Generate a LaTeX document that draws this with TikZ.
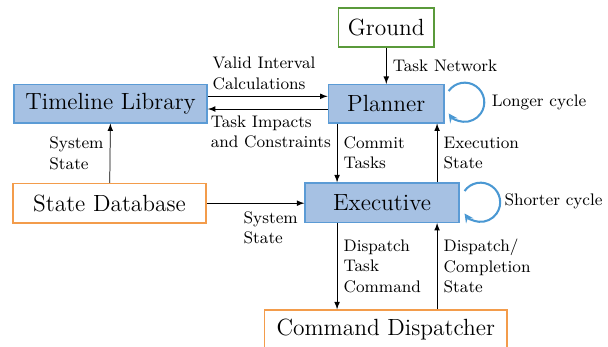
\documentclass[tikz,border=0pt]{standalone}
\usetikzlibrary{arrows}

\definecolor{boxfill}{HTML}{A6C1E3}
\definecolor{boxline}{HTML}{5B9BD5}
\definecolor{loopblue}{HTML}{4A98D3}
\definecolor{grndgreen}{HTML}{5A9A3A}
\definecolor{srcorange}{HTML}{F39C4B}

\tikzset{
  core/.style={draw=boxline,fill=boxfill,thick,font=\fontsize{12.6}{15}\selectfont,minimum height=0.72cm},
  extern/.style={draw,thick,fill=white,font=\fontsize{12.6}{15}\selectfont,minimum height=0.74cm},
  lbl/.style={font=\small,align=left},
  cyclearrow/.style={draw=loopblue,line width=1.1pt,->,>=stealth},
}

\begin{document}
\begin{tikzpicture}[>=latex]
  \useasboundingbox (0,0) rectangle (11.49,6.54);
  % Kaesten
  \node[core,minimum width=3.65cm] (timeline) at (2.09,4.58) {Timeline Library};
  \node[core,minimum width=2.19cm] (planner) at (7.30,4.58) {Planner};
  \node[core,minimum width=2.91cm,minimum height=0.74cm] (exec) at (7.22,2.71) {Executive};
  \node[extern,draw=grndgreen,minimum width=1.81cm] (ground) at (7.30,6.02) {Ground};
  \node[extern,draw=srcorange,minimum width=3.65cm] (statedb) at (2.07,2.70) {State Database};
  \node[extern,draw=srcorange,minimum width=4.59cm] (dispatch) at (7.29,0.31) {Command Dispatcher};
  % Spalten fuer die senkrechten Pfeile
  \coordinate (lcol) at (6.37,0);
  \coordinate (rcol) at (8.26,0);
  % Ground -> Planner
  \draw[->] (ground) -- (planner)
    node[lbl,midway,right] {Task Network};
  % Timeline <-> Planner
  \draw[->] ([yshift=0.14cm]timeline.east) -- ([yshift=0.14cm]timeline.east -| planner.west)
    node[lbl,pos=0,above right,xshift=-1pt] {Valid Interval\\Calculations};
  \draw[->] ([yshift=-0.10cm]timeline.east -| planner.west) -- ([yshift=-0.10cm]timeline.east)
    node[lbl,pos=1,below right,xshift=-2pt] {Task Impacts\\and Constraints};
  % State Database
  \draw[->] (statedb) -- (timeline)
    node[lbl,midway,left] {System\\State};
  \draw[->] (statedb.east) -- (statedb.east -| exec.west)
    node[lbl,pos=1,below left,yshift=-1pt] {System\\State};
  % Planner <-> Executive
  \draw[->] (planner.south -| lcol) -- (exec.north -| lcol)
    node[lbl,midway,right] {Commit\\Tasks};
  \draw[->] (exec.north -| rcol) -- (planner.south -| rcol)
    node[lbl,midway,right] {Execution\\State};
  % Executive <-> Command Dispatcher
  \draw[->] (exec.south -| lcol) -- (dispatch.north -| lcol)
    node[lbl,midway,right] {Dispatch\\Task\\Command};
  \draw[->] (dispatch.north -| rcol) -- (exec.south -| rcol)
    node[lbl,midway,right] {Dispatch/\\Completion\\State};
  % Zyklen
  \draw[cyclearrow] ([shift={(0.07,0.24)}]planner.east) arc[start angle=145,end angle=-145,radius=0.37];
  \node[lbl,anchor=west] (longer) at (9.17,4.61) {Longer cycle};
  \draw[cyclearrow] ([shift={(0.09,0.22)}]exec.east) arc[start angle=145,end angle=-145,radius=0.37];
  \node[lbl,anchor=west] (shorter) at (9.41,2.74) {Shorter cycle};
\end{tikzpicture}
\end{document}
